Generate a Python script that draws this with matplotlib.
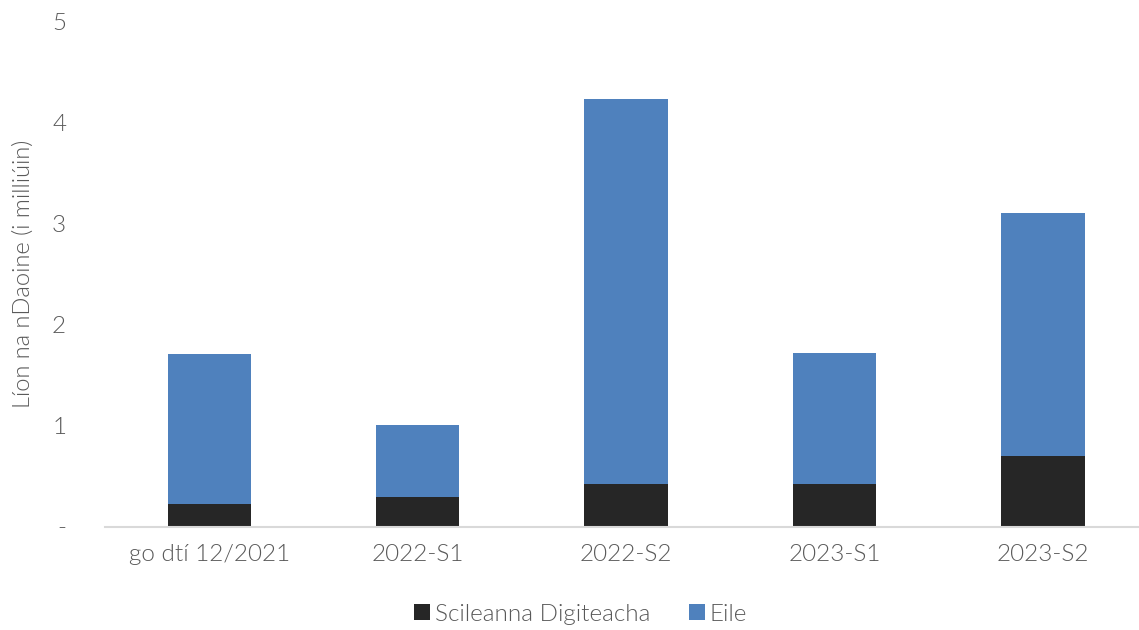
import numpy as np
import matplotlib.pyplot as plt

plt.rcParams['font.family'] = ['Lato', 'DejaVu Sans']
plt.rcParams['font.weight'] = 300
plt.rcParams['axes.labelweight'] = 300

# Data (millions of people)
categories = ["go dtí 12/2021", "2022-S1", "2022-S2", "2023-S1", "2023-S2"]
digital = [0.23, 0.30, 0.42, 0.42, 0.70]
other = [1.48, 0.71, 3.81, 1.30, 2.40]
yticks = [0, 1, 2, 3, 4, 5]
ytick_labels = ["-", "1", "2", "3", "4", "5"]

text_col = "#595959"

fig = plt.figure(figsize=(11.39, 6.30), dpi=100)
ax = fig.add_axes([105 / 1139, 103 / 630, 1 - 105 / 1139, 506 / 630])

x = np.arange(len(categories))
ax.bar(x, digital, width=0.40, color="#262626", label="Scileanna Digiteacha")
ax.bar(x, other, width=0.40, bottom=digital, color="#4F81BD", label="Eile")

ax.set_xlim(-0.5, 4.46)
ax.set_ylim(0, 5)
ax.set_yticks(yticks)
ax.set_yticklabels(ytick_labels)
ax.set_xticks(x)
ax.set_xticklabels(categories)

for s in ["top", "right", "left"]:
    ax.spines[s].set_visible(False)
ax.spines["bottom"].set_color("#d9d9d9")
ax.spines["bottom"].set_linewidth(1.5)

ax.tick_params(axis="both", length=0, labelsize=17.5, colors=text_col)
ax.tick_params(axis="y", pad=28)
ax.tick_params(axis="x", pad=12)

ax.set_ylabel("Líon na nDaoine (i milliúin)", fontsize=17, color=text_col,
              labelpad=13, fontweight=300)

fig.legend(loc="center", bbox_to_anchor=(0.51, 0.025), ncol=2, frameon=False,
           fontsize=17.5, labelcolor=text_col, handlelength=0.65, handleheight=0.65,
           handletextpad=0.2, columnspacing=1.6)

fig.savefig("out.png", dpi=100)
